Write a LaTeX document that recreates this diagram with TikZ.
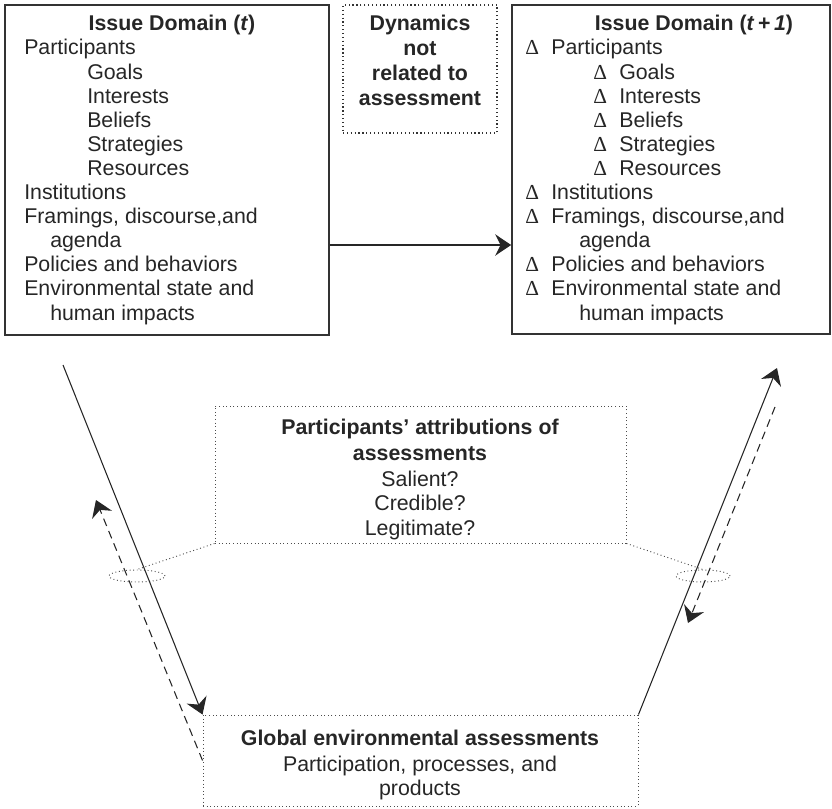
\documentclass[tikz,border=0pt]{standalone}
\usepackage{fontspec}
\setmainfont{Liberation Sans}
\newfontfamily\deltafont{Liberation Serif}
\usetikzlibrary{
  arrows.meta, shapes.geometric, calc,
}
\newcommand{\dlt}{\makebox[19.5pt][l]{\deltafont Δ}}

\begin{document}
\begin{tikzpicture}[
    x=0.75pt, y=-0.75pt,
    font=\fontsize{16}{18}\selectfont, text=black!85,
    issuebox/.style={
        rectangle, draw=black!80, line width=1.2pt, inner sep=0pt,
      },
    dynbox/.style={
        rectangle, draw=black!80, dotted, line width=0.9pt, inner sep=0pt,
      },
    attrbox/.style={
        rectangle, draw=black!70, dotted, line width=0.7pt, inner sep=0pt,
      },
    ring/.style={
        ellipse, draw=black!70, dotted, line width=0.7pt, inner sep=0pt,
        minimum width=42pt, minimum height=9pt,
      },
    link/.style={draw=black!70, dotted, line width=0.7pt},
    item/.style={anchor=base west, inner sep=0pt},
    txt/.style={anchor=base, inner sep=0pt},
    hdr/.style={txt, font=\fontsize{16}{18}\selectfont\bfseries},
    arr/.style={
        black!85, line width=0.8pt,
        -{Stealth[length=12pt, width=16pt, inset=4pt]},
      },
    darr/.style={arr, dash pattern=on 6pt off 4pt},
  ]
  \useasboundingbox (0,0) rectangle (832,809);

  % boxes
  \node[issuebox, minimum width=243pt, minimum height=247.5pt] (dom1) at (167,170) {};
  \node[issuebox, minimum width=238.5pt, minimum height=246.75pt] (dom2) at (671,169.5) {};
  \node[dynbox, minimum width=115.5pt, minimum height=96pt] (dyn) at (420,69) {};
  \node[attrbox, minimum width=308.25pt, minimum height=102.75pt] (attr) at (420.5,474.5) {};
  \node[attrbox, minimum width=326.25pt, minimum height=68.25pt] (gea) at (420.5,760.5) {};
  \node[ring] (ringL) at (137,576) {};
  \node[ring, minimum width=40.5pt] (ringR) at (703,576) {};

  % issue domain (t)
  \node[hdr] (t1) at (172,31) {Issue Domain (\textit{t})};
  \foreach \i/\x/\t in {
      0/24/Participants,
      1/87/Goals,
      2/87/Interests,
      3/87/Beliefs,
      4/87/Strategies,
      5/87/Resources,
      6/24/Institutions,
      7/24/{Framings, discourse,and},
      8/50/agenda,
      9/24/Policies and behaviors,
      10/24/Environmental state and,
      11/50/human impacts
    }{
      \node[item] (l\i) at (\x, 55+24.1*\i) {\t};
    }

  % issue domain (t+1)
  \node[hdr] (t2) at (694,31) {Issue Domain (\textit{t}\,+\,\textit{1})};
  \foreach \i/\x/\t in {
      0/525/\dlt Participants,
      1/593/\dlt Goals,
      2/593/\dlt Interests,
      3/593/\dlt Beliefs,
      4/593/\dlt Strategies,
      5/593/\dlt Resources,
      6/525/\dlt Institutions,
      7/525/{\dlt Framings, discourse,and},
      8/579/agenda,
      9/525/\dlt Policies and behaviors,
      10/525/\dlt Environmental state and,
      11/579/human impacts
    }{
      \node[item] (r\i) at (\x, 55+24.1*\i) {\t};
    }

  \foreach \i/\t in {0/Dynamics, 1/not, 2/related to, 3/assessment}{
      \node[hdr] (dyn\i) at (420, 31+25*\i) {\t};
    }

  \node[hdr] (a0) at (420,434) {Participants’ attributions of};
  \node[hdr] (a1) at (420,460) {assessments};
  \foreach \i/\t in {0/Salient?, 1/Credible?, 2/Legitimate?}{
      \node[txt] (q\i) at (420, 486+24.5*\i) {\t};
    }

  \node[hdr] (g0) at (420,745) {Global environmental assessments};
  \node[txt] (g1) at (420,771) {Participation, processes, and};
  \node[txt] (g2) at (420,795) {products};

  % connectors
  \coordinate (mid) at (0,245);
  \coordinate (inL) at (63,365);
  \coordinate (outL) at (96,500);
  \coordinate (outR) at (777,368);
  \coordinate (inR) at (775,407);
  \coordinate (endR) at (688,623);

  \draw[arr, line width=1.2pt] (dom1.east |- mid) -- (dom2.west |- mid);
  \draw[arr] (inL) -- (gea.north west);
  \draw[darr] (gea.west) -- (outL);
  \draw[arr] (gea.north east) -- (outR);
  \draw[darr] (inR) -- (endR);

  \draw[link] (attr.south west) -- (ringL.north);
  \draw[link] (attr.south east) -- (ringR.north);
\end{tikzpicture}
\end{document}
